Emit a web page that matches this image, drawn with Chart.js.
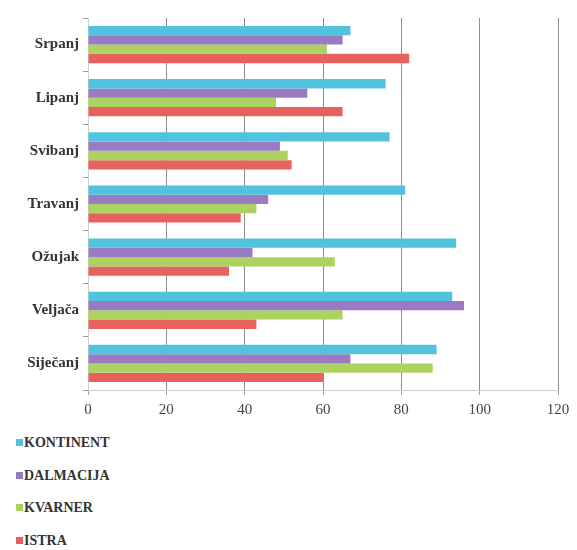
<!DOCTYPE html>
<html>
<head>
<meta charset="utf-8">
<script src="https://cdn.jsdelivr.net/npm/chart.js@4/dist/chart.umd.min.js"></script>
<style>
  body { margin: 0; background: #fff; }
  #wrap { position: relative; width: 577px; height: 550px; }
  #box { position: absolute; left: 0; top: 0; width: 577px; height: 425px; }
  #legend { position: absolute; left: 0; top: 0; }
  .item { position: absolute; left: 16px; height: 20px; line-height: 20px; white-space: nowrap;
          font-family: 'Liberation Serif', 'Times New Roman', 'DejaVu Serif', serif;
          font-weight: bold; font-size: 14px; color: #333; }
  .item span { display: inline-block; width: 7px; height: 7px; margin-right: 1px; vertical-align: 1px; }
</style>
</head>
<body>
<div id="wrap">
  <div id="box"><canvas id="chart"></canvas></div>
  <div id="legend"></div>
</div>
<script>
const months = ['Srpanj', 'Lipanj', 'Svibanj', 'Travanj', 'Ožujak', 'Veljača', 'Siječanj'];
const kontinent = [67, 76, 77, 81, 94, 93, 89];
const dalmacija = [65, 56, 49, 46, 42, 96, 67];
const kvarner = [61, 48, 51, 43, 63, 65, 88];
const istra = [82, 65, 52, 39, 36, 43, 60];
const xTicks = [0, 20, 40, 60, 80, 100, 120];

const serifFont = "'Liberation Serif', 'Times New Roman', 'DejaVu Serif', serif";

const series = [
    { label: 'KONTINENT', data: kontinent, color: '#52c3df' },
    { label: 'DALMACIJA', data: dalmacija, color: '#9a7bc2' },
    { label: 'KVARNER', data: kvarner, color: '#acd35f' },
    { label: 'ISTRA', data: istra, color: '#e7625f' }
];

const ctx = document.getElementById('chart').getContext('2d');

const chart = new Chart(ctx, {
    type: 'bar',
    data: {
        labels: months,
        datasets: series.map(s => ({
            label: s.label,
            data: s.data,
            backgroundColor: s.color,
            borderWidth: 0,
            categoryPercentage: 0.7,
            barPercentage: 1.0
        }))
    },
    options: {
        indexAxis: 'y',
        responsive: true,
        maintainAspectRatio: false,
        animation: false,
        layout: { padding: { top: 18, right: 19, left: 0, bottom: 0 } },
        plugins: {
            legend: { display: false },
            tooltip: { enabled: false }
        },
        scales: {
            x: {
                min: 0,
                max: 120,
                afterBuildTicks: axis => { axis.ticks = xTicks.map(v => ({ value: v })); },
                afterFit: axis => { axis.height = 35; },
                grid: {
                    color: c => c.tick && c.tick.value === 0 ? 'rgba(0,0,0,0)' : '#8c8c8c',
                    tickColor: '#999',
                    tickLength: 5
                },
                border: { color: '#cfcfcf' },
                ticks: {
                    color: '#444',
                    padding: 6,
                    font: { family: serifFont, size: 15 }
                }
            },
            y: {
                afterFit: axis => { axis.width = 88; },
                grid: {
                    drawOnChartArea: false,
                    tickColor: '#999',
                    tickLength: 5,
                    offset: true
                },
                border: { color: '#cfcfcf' },
                ticks: {
                    color: '#333',
                    padding: 4,
                    font: { family: serifFont, size: 15, weight: 'bold' }
                }
            }
        }
    }
});

// legend stacked vertically under the axis, like the original
const legend = document.getElementById('legend');
chart.data.datasets.forEach((ds, i) => {
    const div = document.createElement('div');
    div.className = 'item';
    div.style.top = (433 + i * 32.5) + 'px';
    div.innerHTML = `<span style="background:${ds.backgroundColor}"></span>${ds.label}`;
    legend.appendChild(div);
});
</script>
</body>
</html>
